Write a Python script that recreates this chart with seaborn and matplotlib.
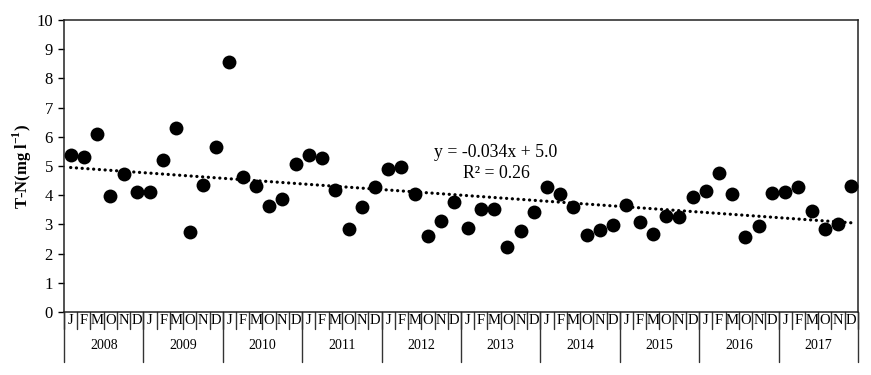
import numpy as np
import pandas as pd
import matplotlib
matplotlib.use('Agg')
import matplotlib.pyplot as plt
import seaborn as sns

years = ['2008', '2009', '2010', '2011', '2012', '2013', '2014', '2015', '2016', '2017']
months = ['J', 'F', 'M', 'O', 'N', 'D']
tn = [5.38, 5.30, 6.08, 3.98, 4.74, 4.10,   # 2008
      4.10, 5.20, 6.29, 2.73, 4.35, 5.64,   # 2009
      8.57, 4.63, 4.33, 3.62, 3.86, 5.08,   # 2010
      5.38, 5.28, 4.18, 2.84, 3.60, 4.28,   # 2011
      4.88, 4.97, 4.04, 2.60, 3.13, 3.77,   # 2012
      2.88, 3.53, 3.53, 2.23, 2.77, 3.43,   # 2013
      4.28, 4.04, 3.58, 2.64, 2.81, 2.98,   # 2014
      3.66, 3.08, 2.68, 3.30, 3.25, 3.94,   # 2015
      4.15, 4.75, 4.04, 2.56, 2.95, 4.07,   # 2016
      4.12, 4.28, 3.47, 2.84, 3.01, 4.30]   # 2017
eq_text = 'y = -0.034x + 5.0'
r2_text = 'R² = 0.26'

df = pd.DataFrame({
    'year': np.repeat(years, len(months)),
    'month': months * len(years),
    'tn': tn,
})
df['pos'] = np.arange(len(df))

sns.set_style('ticks')
plt.rcParams['font.family'] = ['Liberation Serif', 'DejaVu Serif']
plt.rcParams['mathtext.fontset'] = 'custom'
plt.rcParams['mathtext.rm'] = 'Liberation Serif'
plt.rcParams['mathtext.bf'] = 'Liberation Serif:bold'
for key in ['text.color', 'axes.labelcolor', 'xtick.color', 'ytick.color']:
    plt.rcParams[key] = 'black'

fig = plt.figure(figsize=(8.71, 3.75), dpi=100)
ax = fig.add_axes([0.0735, 0.168, 0.9115, 0.7787])

sns.scatterplot(data=df, x='pos', y='tn', s=100, color='black', edgecolor='black',
                linewidth=0, ax=ax, zorder=3)

# linear trend over sample number 1..60
xs = df['pos'].to_numpy() + 1
slope, icpt = np.polyfit(xs, df['tn'], 1)
ax.plot(df['pos'], slope * xs + icpt, color='black', lw=2.3,
        linestyle=(0, (0.05, 1.75)), dash_capstyle='round', zorder=2)
ax.text(32.15, 5.45, eq_text, ha='center', va='center', fontsize=12.8)
ax.text(32.15, 4.76, r2_text, ha='center', va='center', fontsize=12.8)

ax.set_ylim(0, 10)
ax.set_yticks(range(0, 11))
ax.set_xlim(-0.5, len(df) - 0.5)
ax.tick_params(axis='y', labelsize=12, length=4, width=1, direction='out', pad=4)
ax.set_ylabel(r'T-N(mg l$^{\mathbf{-1}}$)', fontsize=12, fontweight='bold', labelpad=2)
ax.set_xlabel('')

# two-level category axis: months, then years
ax.set_xticks([])
trans = ax.get_xaxis_transform()
for i in range(len(df) + 1):
    ax.plot([i - 0.5, i - 0.5], [0, -0.058], transform=trans, color='#333333',
            lw=1, clip_on=False)
for i, m in enumerate(df['month']):
    ax.text(i, -0.03, m, transform=trans, ha='center', va='center', fontsize=10.5)
for k, y in enumerate(years):
    x0 = k * len(months) - 0.5
    ax.plot([x0, x0], [0, -0.172], transform=trans, color='#333333', lw=1, clip_on=False)
    ax.text(x0 + len(months) / 2, -0.115, y, transform=trans, ha='center', va='center',
            fontsize=10)
ax.plot([len(df) - 0.5] * 2, [0, -0.172], transform=trans, color='#333333', lw=1,
        clip_on=False)

for side in ['top', 'right', 'left', 'bottom']:
    ax.spines[side].set_visible(True)
    ax.spines[side].set_color('#222222')
    ax.spines[side].set_linewidth(1.1)

fig.savefig('out.png', dpi=100)
